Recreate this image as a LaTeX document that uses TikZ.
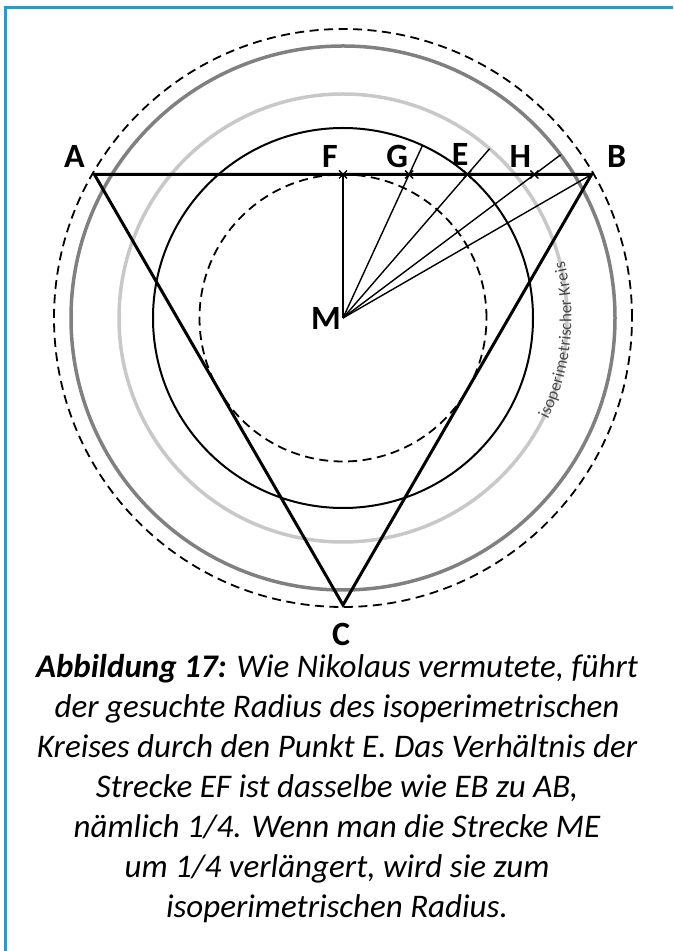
\documentclass[tikz,border=0pt]{standalone}
\usepackage{fontspec}
\setmainfont{Carlito}
\usetikzlibrary{calc,decorations.text}
\definecolor{fig-frame}{HTML}{1A9FDB}
\definecolor{fig-dark}{HTML}{808080}
\definecolor{fig-light}{HTML}{C8C8C8}
\definecolor{fig-text}{HTML}{4A4A4A}

\begin{document}
\begin{tikzpicture}[x=1pt,y=1pt,
    lbl/.style={font=\fontsize{34}{34}\selectfont\bfseries, inner sep=0pt},
    dashcirc/.style={line width=1.8pt, dash pattern=on 9pt off 5.5pt},
    ray/.style={line width=1.4pt},
    cross/.style={line width=1.4pt}]
    \useasboundingbox (0,0) rectangle (673,951);
    \draw[fig-frame, line width=3pt] (5,0) -- (5,943) -- (673,943);
    % triangle and points on AB
    \coordinate (M) at (343,633);
    \coordinate (A) at ($(M)+(150:287pt)$);
    \coordinate (B) at ($(M)+(30:287pt)$);
    \coordinate (C) at ($(M)+(270:287pt)$);
    \coordinate (F) at ($(A)!0.5!(B)$);
    \coordinate (E) at ($(A)!0.75!(B)$);
    \coordinate (G) at ($(A)!0.633!(B)$);
    \coordinate (H) at ($(A)!0.885!(B)$);
    % circles
    \draw[fig-dark, line width=3.5pt] (M) circle[radius=272pt];
    \draw[fig-light, line width=3.5pt] (M) circle[radius=224pt];
    \draw[dashcirc] (M) circle[radius=289pt];
    \draw[dashcirc] (M) circle[radius=143.5pt];
    \draw[line width=2pt] (M) circle[radius=190pt];
    \path[decorate, decoration={text along path, text align=center, raise=-4.5pt,
        text={|\fontsize{17}{17}\selectfont\color{fig-text}|isoperimetrischer Kreis}}]
        ($(M)+(-45:224pt)$) arc[start angle=-45, end angle=33, radius=224pt];
    % rays from M
    \draw[ray] (M) -- (F);
    \draw[ray] (M) -- ($(M)!190pt!(G)$);
    \draw[ray] (M) -- ($(M)!224pt!(E)$);
    \draw[ray] (M) -- ($(M)!272pt!(H)$);
    \draw[ray] (M) -- (B);
    \draw[line width=3pt, line join=miter] (A) -- (B) -- (C) -- cycle;
    \foreach \p in {F,G,E,H}
        \draw[cross] ($(\p)+(-4,-4)$) -- ($(\p)+(4,4)$) ($(\p)+(-4,4)$) -- ($(\p)+(4,-4)$);
    % labels
    \node[lbl] (lA) at ($(A)+(-20,18)$) {A};
    \node[lbl] (lB) at ($(B)+(25,18)$) {B};
    \node[lbl] (lC) at ($(C)+(-2,-29)$) {C};
    \node[lbl] (lF) at ($(F)+(-13,18)$) {F};
    \node[lbl] (lG) at ($(G)+(-12,18)$) {G};
    \node[lbl] (lE) at ($(E)+(-7,20)$) {E};
    \node[lbl] (lH) at ($(H)+(-14,18)$) {H};
    \node[lbl] (lM) at ($(M)+(-17,0)$) {M};
    % caption
    \node[font=\fontsize{33}{40}\selectfont\itshape, align=center, anchor=north, inner sep=0pt]
        (cap) at (337,297) {\textbf{Abbildung 17:} Wie Nikolaus vermutete, führt\\
        der gesuchte Radius des isoperimetrischen\\
        Kreises durch den Punkt E. Das Verhältnis der\\
        Strecke EF ist dasselbe wie EB zu AB,\\
        nämlich 1/4. Wenn man die Strecke ME\\
        um 1/4 verlängert, wird sie zum\\
        isoperimetrischen Radius.};
\end{tikzpicture}
\end{document}
